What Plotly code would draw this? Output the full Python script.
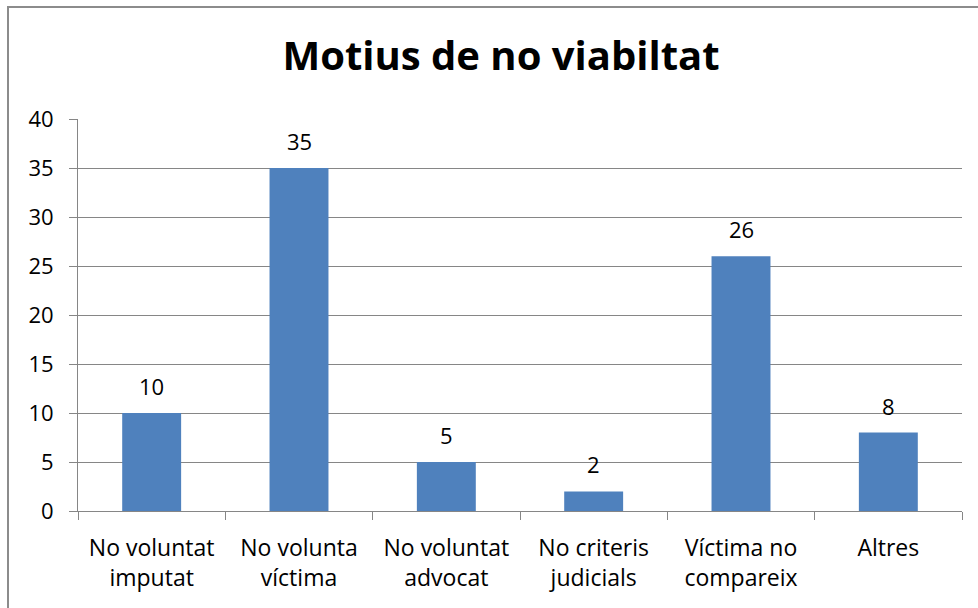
import plotly.graph_objects as go

categories = [
    "No voluntat<br>imputat",
    "No volunta<br>víctima",
    "No voluntat<br>advocat",
    "No criteris<br>judicials",
    "Víctima no<br>compareix",
    "Altres",
]
values = [10, 35, 5, 2, 26, 8]
y_ticks = [0, 5, 10, 15, 20, 25, 30, 35, 40]

W, H = 978, 608
L, R, T, B = 78, 16, 119, 97
pw, ph = W - L - R, H - T - B

font_name = "Open Sans, sans-serif"
grid_col = "#868686"

fig = go.Figure()
fig.add_trace(
    go.Bar(
        x=categories,
        y=values,
        marker=dict(color="#4F81BD", line=dict(width=0)),
        width=0.4,
    )
)

# value labels above the bars
for c, v in zip(categories, values):
    fig.add_annotation(
        x=c,
        y=v,
        text=str(v),
        showarrow=False,
        yanchor="bottom",
        yshift=10,
        font=dict(size=22, color="black"),
    )

fig.update_layout(
    width=W,
    height=H,
    margin=dict(l=L, r=R, t=T, b=B),
    paper_bgcolor="white",
    plot_bgcolor="white",
    showlegend=False,
    font=dict(family=font_name, size=23, color="black"),
    title=dict(
        text="<b>Motius de no viabiltat</b>",
        x=501 / W,
        xanchor="center",
        y=1 - 56 / H,
        yanchor="middle",
        font=dict(size=40, family=font_name, color="black"),
    ),
    # chart frame
    shapes=[
        dict(
            type="rect",
            xref="paper",
            yref="paper",
            x0=(8 - L) / pw,
            x1=(W + 10 - L) / pw,
            y0=(H - B - (H + 10)) / ph,
            y1=(H - B - 7) / ph,
            line=dict(color="#8c8c8c", width=2),
            fillcolor="rgba(0,0,0,0)",
            layer="below",
        )
    ],
)

fig.update_yaxes(
    range=[0, 40],
    tickvals=y_ticks,
    showgrid=True,
    gridcolor=grid_col,
    gridwidth=1,
    showline=True,
    linecolor=grid_col,
    linewidth=1,
    ticks="outside",
    ticklen=8,
    tickcolor=grid_col,
    ticklabelstandoff=11,
    tickfont=dict(size=22),
    zeroline=False,
)
fig.update_xaxes(
    showline=True,
    linecolor=grid_col,
    linewidth=1,
    ticks="outside",
    tickson="boundaries",
    ticklen=8,
    tickcolor=grid_col,
    ticklabelstandoff=16,
)

# page body has an 8px default margin; drop it so the chart sits at 0,0
fig.write_html(
    "out.html",
    config={"displayModeBar": False},
    post_script="document.body.style.margin='0';",
)
